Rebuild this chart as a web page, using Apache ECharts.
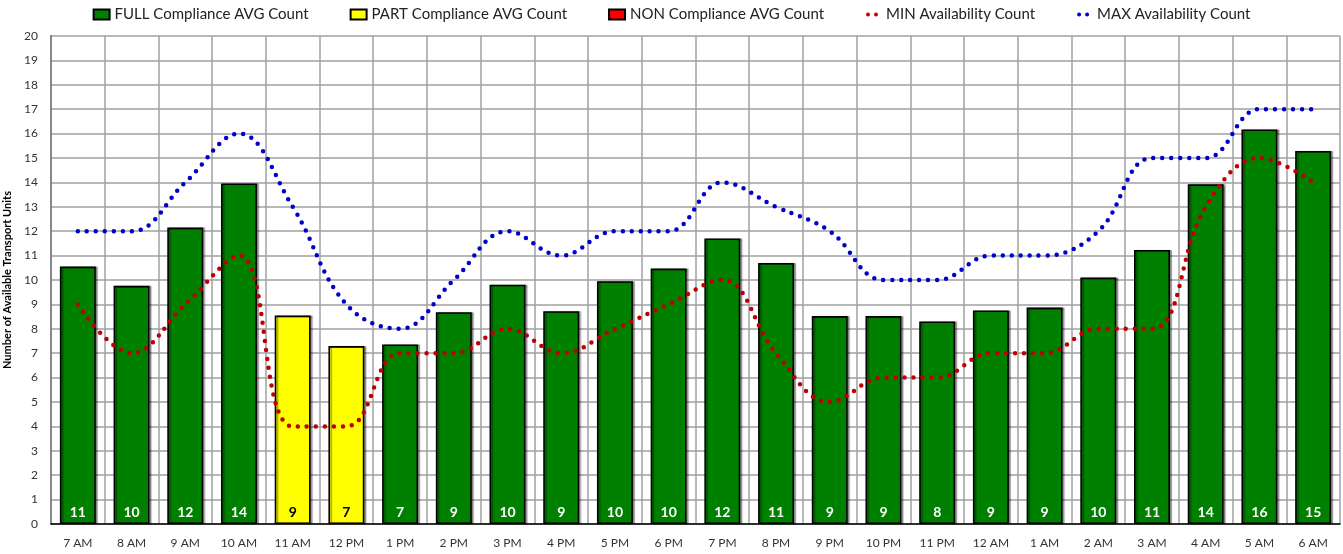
<!DOCTYPE html>
<html>
<head>
<meta charset="utf-8">
<script src="https://cdn.jsdelivr.net/npm/echarts@6/dist/echarts.min.js"></script>
<style>
html,body{margin:0;padding:0;background:#fff;}
#chart{width:1343px;height:554px;}
</style>
</head>
<body>
<div id="chart"></div>
<script>
const categories = ['7 AM','8 AM','9 AM','10 AM','11 AM','12 PM','1 PM','2 PM','3 PM','4 PM','5 PM','6 PM','7 PM','8 PM','9 PM','10 PM','11 PM','12 AM','1 AM','2 AM','3 AM','4 AM','5 AM','6 AM'];
const fullCompliance = [10.55, 9.76, 12.15, 13.96, null, null, 7.36, 8.68, 9.81, 8.72, 9.95, 10.47, 11.70, 10.70, 8.52, 8.52, 8.30, 8.75, 8.87, 10.10, 11.23, 13.92, 16.17, 15.29];
const partCompliance = [null, null, null, null, 8.54, 7.29, null, null, null, null, null, null, null, null, null, null, null, null, null, null, null, null, null, null];
const nonCompliance = [null, null, null, null, null, null, null, null, null, null, null, null, null, null, null, null, null, null, null, null, null, null, null, null];
const minAvailability = [9, 7, 9, 11, 4, 4, 7, 7, 8, 7, 8, 9, 10, 7, 5, 6, 6, 7, 7, 8, 8, 13, 15, 14];
const maxAvailability = [12, 12, 14, 16, 13, 9, 8, 10, 12, 11, 12, 12, 14, 13, 12, 10, 10, 11, 11, 12, 15, 15, 17, 17];
const yTicks = {min: 0, max: 20, interval: 1};

const FONT = 'Lato';
const dotsIcon = 'path://M0,0M16,10M1,5a2,2 0 1,0 4,0a2,2 0 1,0 -4,0M9,5a2,2 0 1,0 4,0a2,2 0 1,0 -4,0';
const barShadow = {shadowColor: 'rgba(0,0,0,0.35)', shadowOffsetX: 2, shadowOffsetY: 0, shadowBlur: 1};

const chart = echarts.init(document.getElementById('chart'), null, {renderer: 'canvas'});
const labelFmt = p => (p.value == null ? '' : Math.round(p.value));

chart.setOption({
  animation: false,
  textStyle: {fontFamily: FONT},
  legend: {
    top: 2,
    left: 'center',
    itemGap: 41,
    itemWidth: 16,
    itemHeight: 10,
    textStyle: {fontFamily: FONT, fontSize: 15, color: '#222'},
    data: [
      {name: 'FULL Compliance AVG Count', icon: 'rect'},
      {name: 'PART Compliance AVG Count', icon: 'rect'},
      {name: 'NON Compliance AVG Count', icon: 'rect'},
      {name: 'MIN Availability Count', icon: dotsIcon, itemStyle: {color: '#C00000', borderWidth: 0}},
      {name: 'MAX Availability Count', icon: dotsIcon, itemStyle: {color: '#0000CC', borderWidth: 0}}
    ]
  },
  grid: {left: 51, right: 3, top: 36, bottom: 30, containLabel: false, outerBoundsMode: 'none'},
  xAxis: {
    type: 'category',
    data: categories,
    boundaryGap: true,
    axisLine: {show: true, lineStyle: {color: '#000', width: 1.5}},
    axisTick: {show: false},
    axisLabel: {fontFamily: FONT, fontSize: 12, color: '#333', margin: 13, interval: 0},
    splitLine: {show: true, interval: 0, lineStyle: {color: '#a0a0a0', width: 1.5}},
    z: 3
  },
  yAxis: {
    type: 'value',
    min: yTicks.min,
    max: yTicks.max,
    interval: yTicks.interval,
    name: 'Number of Available Transport Units',
    nameLocation: 'middle',
    nameGap: 36,
    nameTextStyle: {fontFamily: FONT, fontSize: 11, fontWeight: 'bold', color: '#000'},
    axisLine: {show: true, lineStyle: {color: '#000', width: 1.5}},
    axisTick: {show: false},
    axisLabel: {fontFamily: FONT, fontSize: 12, color: '#333', margin: 13},
    splitLine: {show: true, lineStyle: {color: '#a0a0a0', width: 1.5}}
  },
  series: [
    {
      name: 'FULL Compliance AVG Count',
      type: 'bar',
      stack: 'cmp',
      data: fullCompliance,
      barCategoryGap: '33%',
      itemStyle: Object.assign({color: '#008000', borderColor: '#000', borderWidth: 1.6}, barShadow),
      label: {show: true, position: 'insideBottom', distance: 5, formatter: labelFmt,
              color: '#fff', fontFamily: FONT, fontSize: 14, fontWeight: 'bold'}
    },
    {
      name: 'PART Compliance AVG Count',
      type: 'bar',
      stack: 'cmp',
      data: partCompliance,
      barCategoryGap: '33%',
      itemStyle: Object.assign({color: '#FFFF00', borderColor: '#000', borderWidth: 1.6}, barShadow),
      label: {show: true, position: 'insideBottom', distance: 5, formatter: labelFmt,
              color: '#000', fontFamily: FONT, fontSize: 14, fontWeight: 'bold'}
    },
    {
      name: 'NON Compliance AVG Count',
      type: 'bar',
      stack: 'cmp',
      data: nonCompliance,
      barCategoryGap: '33%',
      itemStyle: {color: '#FF0000', borderColor: '#000', borderWidth: 1.6}
    },
    {
      name: 'MIN Availability Count',
      type: 'line',
      data: minAvailability,
      smooth: 0.4,
      symbol: 'none',
      color: '#C00000',
      lineStyle: {color: '#C00000', width: 4.5, type: [0, 9], cap: 'round'},
      z: 5
    },
    {
      name: 'MAX Availability Count',
      type: 'line',
      data: maxAvailability,
      smooth: 0.4,
      symbol: 'none',
      color: '#0000CC',
      lineStyle: {color: '#0000CC', width: 4.5, type: [0, 9], cap: 'round'},
      z: 5
    }
  ]
});
</script>
</body>
</html>
